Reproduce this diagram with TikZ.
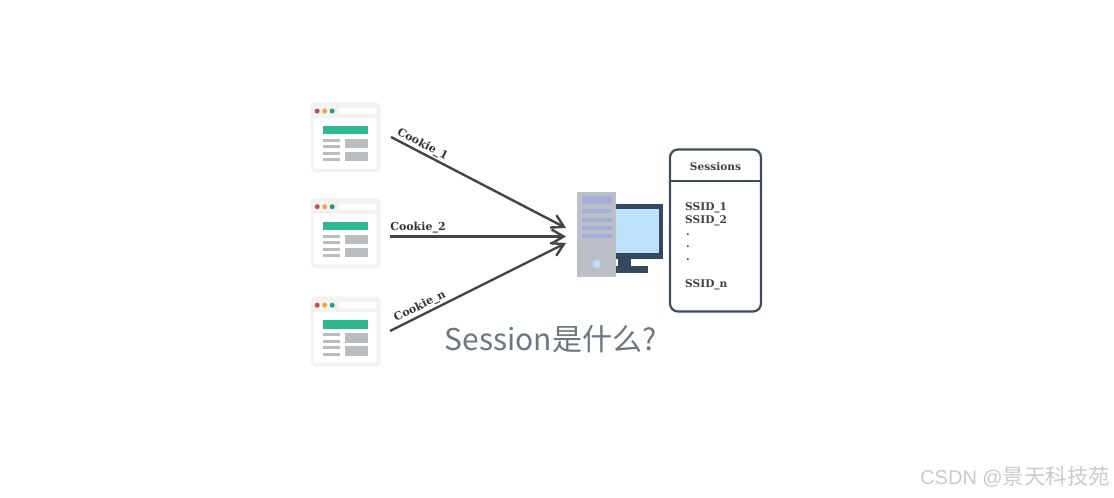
\documentclass[tikz,border=0pt]{standalone}
\usepackage{fontspec}
\usepackage{tikz}
\usetikzlibrary{arrows.meta,positioning,calc}
\newfontfamily\slabfont{DejaVu Serif}
\newfontfamily\cjkfont{Noto Sans CJK SC}
\newfontfamily\wmfont{Liberation Sans}
\definecolor{panelgray}{HTML}{F1F2F3}
\definecolor{bargreen}{HTML}{2DB891}
\definecolor{blockgray}{HTML}{BABDC0}
\definecolor{linkdark}{HTML}{444444}
\definecolor{boxline}{HTML}{3D4D5F}
\definecolor{towergray}{HTML}{BCC0C6}
\definecolor{towerbar}{HTML}{A9ADD9}
\definecolor{screenblue}{HTML}{BDE0FB}
\definecolor{screenframe}{HTML}{34495E}
\definecolor{titlegray}{HTML}{6D7482}
\definecolor{markgray}{HTML}{CACACA}
\definecolor{dotred}{HTML}{C4504A}
\definecolor{dotamber}{HTML}{E8A83E}
\definecolor{dotgreen}{HTML}{2A9D78}
\begin{document}
\begin{tikzpicture}[
  x=1pt, y=-1pt,
  >={Straight Barb[length=12pt,width=14pt,line width=2.4pt]},
  link/.style={draw=linkdark, line width=2.4pt, ->},
  linklabel/.style={font=\slabfont\bfseries\fontsize{11}{13}\selectfont, text=black!80, inner sep=0pt},
  ssid/.style={font=\slabfont\bfseries\fontsize{10.6}{12}\selectfont, text=black!75, inner sep=0pt, anchor=west},
  browser/.pic={
    % frame and header
    \fill[panelgray, rounded corners=5pt] (0,0) rectangle (70,70);
    \fill[white, rounded corners=1pt] (3,15.5) rectangle (66,66.5);
    \fill[white, rounded corners=1pt] (28.5,5.5) rectangle (66,12);
    \fill[dotred] (6.5,8.7) circle (2.5);
    \fill[dotamber] (14,8.7) circle (2.5);
    \fill[dotgreen] (21.5,8.7) circle (2.5);
    % page content
    \fill[bargreen] (12,23.5) rectangle (57,32);
    \foreach \yy in {36.5,43,49.5,56} {
      \fill[blockgray] (12,\yy) rectangle (29,\yy+3);
    }
    \fill[blockgray] (34,36.5) rectangle (57,46);
    \fill[blockgray] (34,49.5) rectangle (57,59);
  },
]
\useasboundingbox (0,0) rectangle (1114,498);

% Browsers
\pic at (310.7,102.3) {browser};
\pic at (310.7,198) {browser};
\pic at (310.7,296.5) {browser};

% Server tower and monitor
\fill[screenframe] (618,259) rectangle (631,267);
\fill[screenframe] (615,266) rectangle (648,273);
\fill[screenframe] (610,204.3) rectangle (662.7,259.3);
\fill[screenblue] (610,209) rectangle (659,253.3);
\fill[towergray] (577.3,191.7) rectangle (615.7,276.7);
\fill[towerbar] (582,196) rectangle (611.7,204);
\foreach \yy in {209,217.7,226,234.3} {
  \fill[towerbar] (582,\yy) rectangle (611.7,\yy+4);
}
\fill[screenblue] (596.7,264) circle (4);

% Sessions table
\node[draw=boxline, line width=2.2pt, rounded corners=8pt, minimum width=91pt, minimum height=162pt,
      inner sep=0pt, outer sep=0pt] (table) at (715.5,230.5) {};
\coordinate (split_l) at (670,181.3);
\coordinate (split_r) at (761,181.3);
\draw[boxline, line width=2pt] (split_l) -- (split_r);
\node[ssid, anchor=center] (title) at (715.5,166.5) {Sessions};
\node[ssid] (ssid1) at (685,207.5) {SSID\_1};
\node[ssid] (ssid2) at (685,220.5) {SSID\_2};
\node[ssid] (dot1) at (686,234.5) {.};
\node[ssid] (dot2) at (686,247) {.};
\node[ssid] (dot3) at (686,259.5) {.};
\node[ssid] (ssidn) at (685,285) {SSID\_n};

% Wires into the server
\coordinate (c1) at (391,137);
\coordinate (c2) at (390,236.5);
\coordinate (c3) at (390,331);
\coordinate (h1) at (566,228);
\coordinate (h2) at (566,236.5);
\coordinate (h3) at (566,243);
\draw[link] (c1) -- (h1);
\draw[link] (c2) -- (h2);
\draw[link] (c3) -- (h3);

% Wire labels
\node[linklabel, rotate=-28] (lab1) at (422.5,144.5) {Cookie\_1};
\node[linklabel] (lab2) at (418,228) {Cookie\_2};
\node[linklabel, rotate=26] (lab3) at (420,306.5) {Cookie\_n};

% Caption and watermark
\node[text=titlegray, inner sep=0pt, font=\fontsize{30}{36}\selectfont] (caption) at (550.5,339) {\cjkfont Session是什么?};
\node[text=markgray, inner sep=0pt, font=\fontsize{21}{25}\selectfont, anchor=east] (mark) at (1110,476.5) {\wmfont\fontsize{20}{25}\selectfont CSDN @\cjkfont\fontsize{21.4}{25}\selectfont 景天科技苑};
\end{tikzpicture}
\end{document}
